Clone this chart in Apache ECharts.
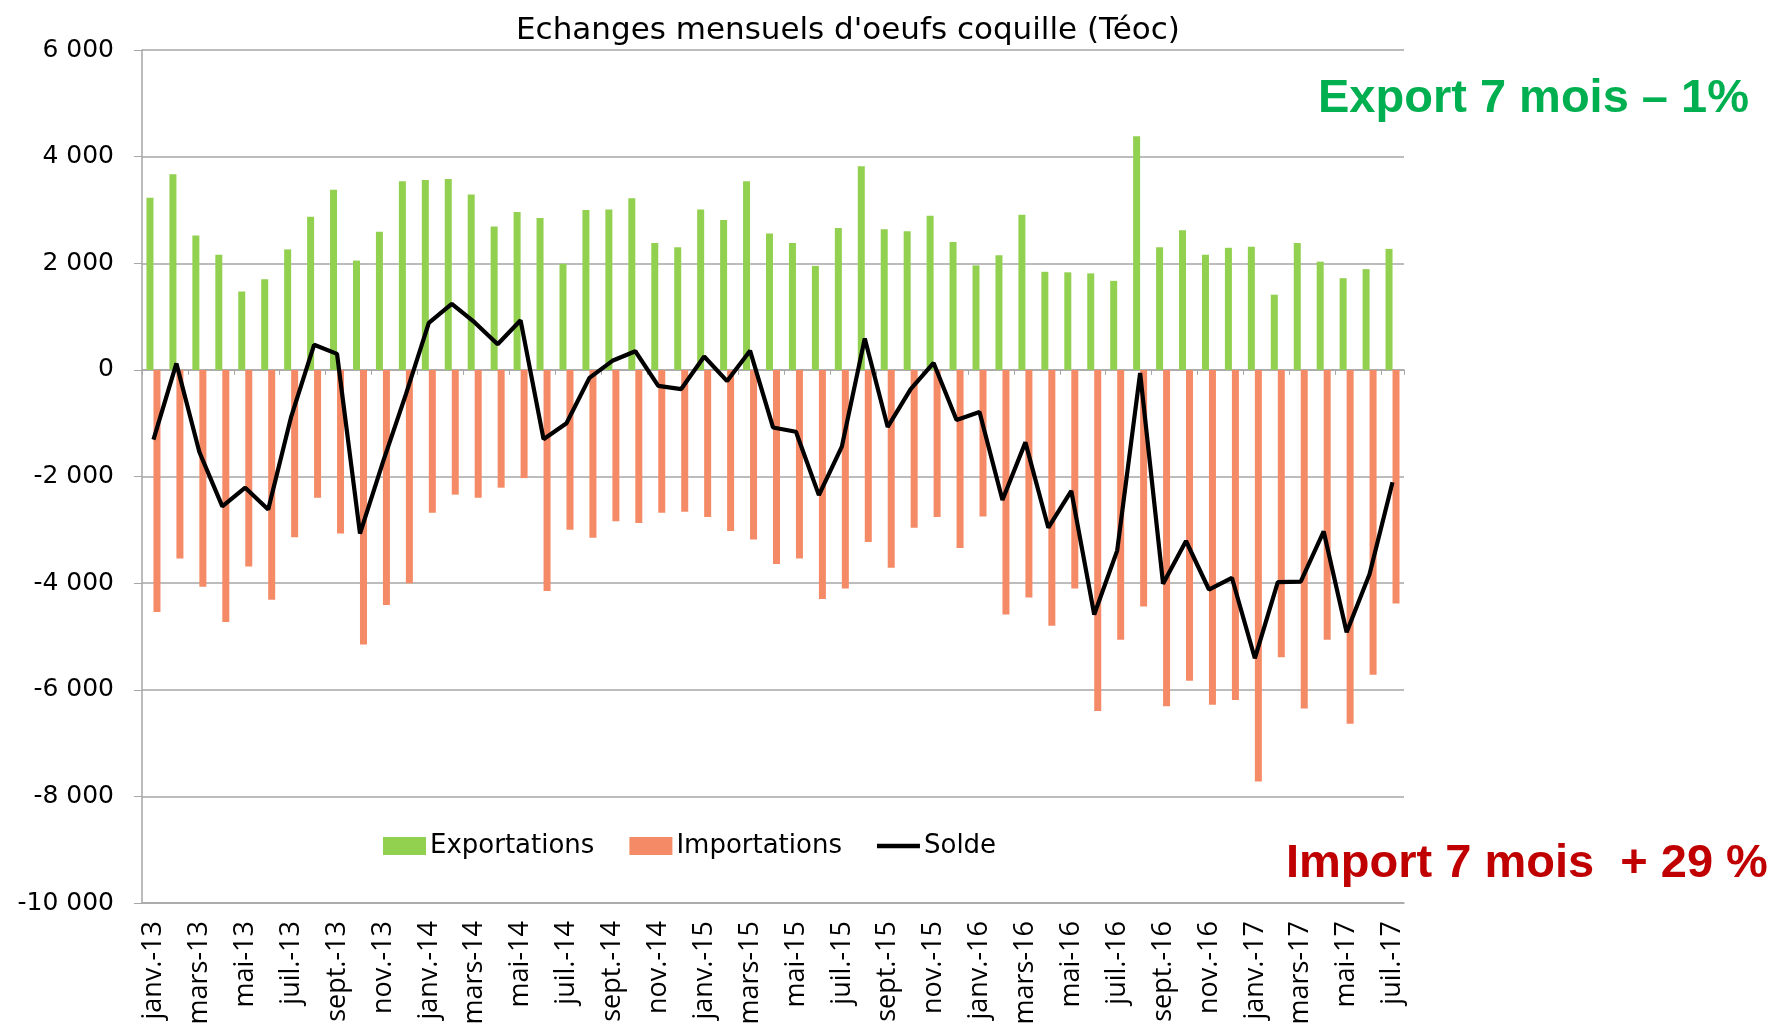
<!DOCTYPE html>
<html lang="fr">
<head>
    <meta charset="utf-8" />
    <title>Echanges mensuels d'oeufs coquille</title>
    <script src="https://cdn.jsdelivr.net/npm/echarts@6/dist/echarts.min.js"></script>
    <style>
        html, body { margin: 0; height: 100%; background: #FFFFFF; }
        #chart { width: 1783px; height: 1029px; }
    </style>
</head>
<body>
<div id="chart"></div>
<script>
// mois janv.-13 -> juil.-17
var months = ['janv.-13', 'févr.-13', 'mars-13', 'avr.-13', 'mai-13', 'juin-13', 'juil.-13', 'août-13', 'sept.-13', 'oct.-13', 'nov.-13', 'déc.-13',
    'janv.-14', 'févr.-14', 'mars-14', 'avr.-14', 'mai-14', 'juin-14', 'juil.-14', 'août-14', 'sept.-14', 'oct.-14', 'nov.-14', 'déc.-14',
    'janv.-15', 'févr.-15', 'mars-15', 'avr.-15', 'mai-15', 'juin-15', 'juil.-15', 'août-15', 'sept.-15', 'oct.-15', 'nov.-15', 'déc.-15',
    'janv.-16', 'févr.-16', 'mars-16', 'avr.-16', 'mai-16', 'juin-16', 'juil.-16', 'août-16', 'sept.-16', 'oct.-16', 'nov.-16', 'déc.-16',
    'janv.-17', 'févr.-17', 'mars-17', 'avr.-17', 'mai-17', 'juin-17', 'juil.-17'];

// Téoc
var exportations = [3230, 3670, 2520, 2160, 1470, 1700, 2260, 2870, 3380, 2050, 2590, 3540, 3560, 3580,
    3290, 2690, 2960, 2850, 1990, 3000, 3010, 3220, 2380, 2300, 3010, 2810, 3540, 2560,
    2380, 1950, 2660, 3820, 2640, 2600, 2890, 2400, 1960, 2150, 2910, 1840, 1830, 1810,
    1670, 4380, 2300, 2620, 2160, 2290, 2310, 1410, 2380, 2030, 1720, 1890, 2270];

var importations = [-4540, -3540, -4070, -4730, -3690, -4310, -3140, -2400, -3070, -5150, -4410, -4000, -2680, -2340,
    -2400, -2210, -2030, -4150, -3000, -3150, -2840, -2870, -2680, -2660, -2760, -3020, -3180, -3640,
    -3540, -4300, -4100, -3230, -3710, -2960, -2760, -3340, -2750, -4590, -4270, -4800, -4100, -6400,
    -5060, -4440, -6310, -5830, -6280, -6190, -7720, -5390, -6350, -5060, -6640, -5720, -4380];

var solde = [-1310, 120, -1540, -2560, -2210, -2620, -880, 470, 300, -3070, -1730, -460, 880, 1240,
    890, 480, 930, -1300, -1000, -150, 170, 350, -300, -360, 250, -210, 360, -1080,
    -1160, -2350, -1440, 590, -1070, -360, 130, -940, -790, -2440, -1360, -2960, -2270, -4590,
    -3390, -60, -4010, -3210, -4120, -3900, -5410, -3980, -3970, -3030, -4920, -3830, -2110];

var chart = echarts.init(document.getElementById('chart'));

function fmt(v) {
    var s = String(Math.abs(v)).replace(/\B(?=(\d{3})+(?!\d))/g, ' ');
    return (v < 0 ? '-' : '') + s;
}

chart.setOption({
    animation: false,
    title: {
        text: "Echanges mensuels d'oeufs coquille (Téoc)",
        left: 843,
        top: 10,
        textAlign: 'center',
        textStyle: { fontFamily: 'DejaVu Sans', fontSize: 31, fontWeight: 'normal', color: '#000' }
    },
    legend: {
        left: 378,
        top: 828,
        itemWidth: 43,
        itemHeight: 18,
        itemGap: 35,
        textStyle: { fontFamily: 'DejaVu Sans', fontSize: 26, color: '#000', padding: [0, 0, 0, -1] },
        data: [
            { name: 'Exportations', icon: 'rect' },
            { name: 'Importations', icon: 'rect' },
            { name: 'Solde', icon: 'path://M0,0 L40,0 L40,4 L0,4 Z' }
        ]
    },
    grid: { left: 142, right: 379, top: 50, bottom: 126 },
    xAxis: [{
        type: 'category',
        data: months,
        axisLine: { onZero: false, lineStyle: { color: '#A6A6A6', width: 1.5 } },
        axisTick: { show: false },
        axisLabel: {
            interval: 1,
            rotate: 90,
            margin: 18,
            fontFamily: 'Open Sans',
            fontSize: 27,
            color: '#000'
        }
    }, {
        // ticks sur la ligne du zéro
        type: 'category',
        data: months,
        position: 'bottom',
        axisLine: { onZero: true, show: true, lineStyle: { color: '#A6A6A6', width: 1.5 } },
        axisTick: { show: true, interval: 1, length: 5, lineStyle: { color: '#A6A6A6' } },
        axisLabel: { show: false }
    }],
    yAxis: {
        type: 'value',
        min: -10000,
        max: 6000,
        interval: 2000,
        axisLine: { show: true, lineStyle: { color: '#A6A6A6', width: 1.5 } },
        axisTick: { show: true, length: 8, lineStyle: { color: '#A6A6A6' } },
        splitLine: { lineStyle: { color: '#A6A6A6', width: 1.5 } },
        axisLabel: {
            margin: 28,
            fontFamily: 'DejaVu Sans',
            fontSize: 25,
            color: '#000',
            formatter: fmt
        }
    },
    series: [{
        name: 'Exportations',
        type: 'bar',
        data: exportations,
        barWidth: 7,
        barGap: '0%',
        itemStyle: { color: '#92D050' }
    }, {
        name: 'Importations',
        type: 'bar',
        data: importations,
        barWidth: 7,
        barGap: '0%',
        itemStyle: { color: '#F58A66' }
    }, {
        name: 'Solde',
        type: 'line',
        data: solde,
        symbol: 'none',
        z: 5,
        lineStyle: { color: '#000', width: 4.2 },
        itemStyle: { color: '#000' }
    }],
    graphic: [{
        type: 'text',
        left: 1318,
        top: 76,
        style: {
            text: 'Export 7 mois – 1%',
            fill: '#00B050',
            font: 'bold 47px "Liberation Sans", Arial, sans-serif'
        }
    }, {
        type: 'text',
        left: 1286,
        top: 841,
        style: {
            text: 'Import 7 mois  + 29 %',
            fill: '#C00000',
            font: 'bold 47px "Liberation Sans", Arial, sans-serif'
        }
    }]
});
</script>
</body>
</html>
